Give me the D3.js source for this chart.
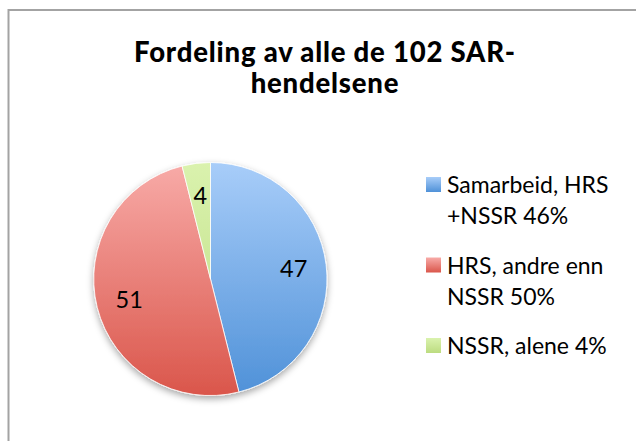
<!DOCTYPE html>
<html><head><meta charset="utf-8">
<script src="https://cdn.jsdelivr.net/npm/d3@7"></script>
<style>html,body{margin:0;padding:0;background:#fff;}svg{display:block;}</style>
</head><body>
<script>
const titleLines = ["Fordeling av alle de 102 SAR-", "hendelsene"];
const categories = ["Samarbeid, HRS +NSSR", "HRS, andre enn NSSR", "NSSR, alene"];
const values = [47, 51, 4];
const percents = ["46%", "50%", "4%"];
const legendLines = [["Samarbeid, HRS", "+NSSR 46%"], ["HRS, andre enn", "NSSR 50%"], ["NSSR, alene 4%"]];
const colorsTop = ["#a8cdf9", "#f8aba8", "#daf2ae"];
const colorsBottom = ["#4f91d8", "#da564b", "#bcdc80"];

const W = 636, H = 441;
const svg = d3.select("body").append("svg").attr("width", W).attr("height", H);
const defs = svg.append("defs");

const font = "Lato, 'Open Sans', sans-serif";

// border
svg.append("rect").attr("x", 8.5).attr("y", 10).attr("width", 700).attr("height", 600)
  .attr("fill", "#fff").attr("stroke", "#a3a3a3").attr("stroke-width", 2);

// title
const title = svg.append("text").attr("text-anchor", "middle")
  .attr("font-family", font).attr("font-weight", 900).attr("font-size", 27.5)
  .attr("letter-spacing", 0.8).attr("fill", "#000");
titleLines.forEach((t, i) => title.append("tspan").attr("x", 325).attr("y", 62 + i * 31).text(t));

// pie
const cx = 210.5, cy = 279, R = 116.5;
const pie = d3.pie().sort(null).value(d => d)(values);
const arc = d3.arc().innerRadius(0).outerRadius(R);
const labelArc = d3.arc().innerRadius(R * 0.72).outerRadius(R * 0.72);

const filt = defs.append("filter").attr("id", "sh").attr("x", "-20%").attr("y", "-20%").attr("width", "140%").attr("height", "140%");
filt.append("feDropShadow").attr("dx", 0).attr("dy", 3).attr("stdDeviation", 3.5).attr("flood-color", "#000").attr("flood-opacity", 0.35);

values.forEach((v, i) => {
  const g = defs.append("linearGradient").attr("id", "g" + i).attr("gradientUnits", "userSpaceOnUse")
    .attr("x1", 0).attr("x2", 0).attr("y1", -R).attr("y2", R);
  g.append("stop").attr("offset", 0).attr("stop-color", colorsTop[i]);
  g.append("stop").attr("offset", 1).attr("stop-color", colorsBottom[i]);
  const lg = defs.append("linearGradient").attr("id", "lg" + i).attr("x1", 0).attr("x2", 0).attr("y1", 0).attr("y2", 1);
  lg.append("stop").attr("offset", 0).attr("stop-color", colorsTop[i]);
  lg.append("stop").attr("offset", 1).attr("stop-color", colorsBottom[i]);
});

const pg = svg.append("g").attr("transform", `translate(${cx},${cy})`);
const slices = pg.append("g").attr("filter", "url(#sh)");
slices.selectAll("path").data(pie).join("path")
  .attr("d", arc)
  .attr("fill", (d, i) => `url(#g${i})`)
  .attr("stroke", "#fff").attr("stroke-width", 0.8);

pg.selectAll("text.lbl").data(pie).join("text").attr("class", "lbl")
  .attr("transform", d => `translate(${labelArc.centroid(d)})`)
  .attr("text-anchor", "middle").attr("dy", "0.36em")
  .attr("font-family", font).attr("font-size", 23.5).attr("fill", "#000")
  .text(d => d.value);

// legend
const leg = svg.append("g");
let y = 193;
legendLines.forEach((lines, i) => {
  leg.append("rect").attr("x", 426).attr("y", y - 16).attr("width", 15).attr("height", 15)
    .attr("fill", `url(#lg${i})`);
  const t = leg.append("text").attr("font-family", font).attr("font-size", 23).attr("fill", "#000");
  lines.forEach((l, j) => t.append("tspan").attr("x", 447).attr("y", y + j * 31).text(l));
  y += (lines.length - 1) * 31 + 49.5;
});
</script>
</body></html>
